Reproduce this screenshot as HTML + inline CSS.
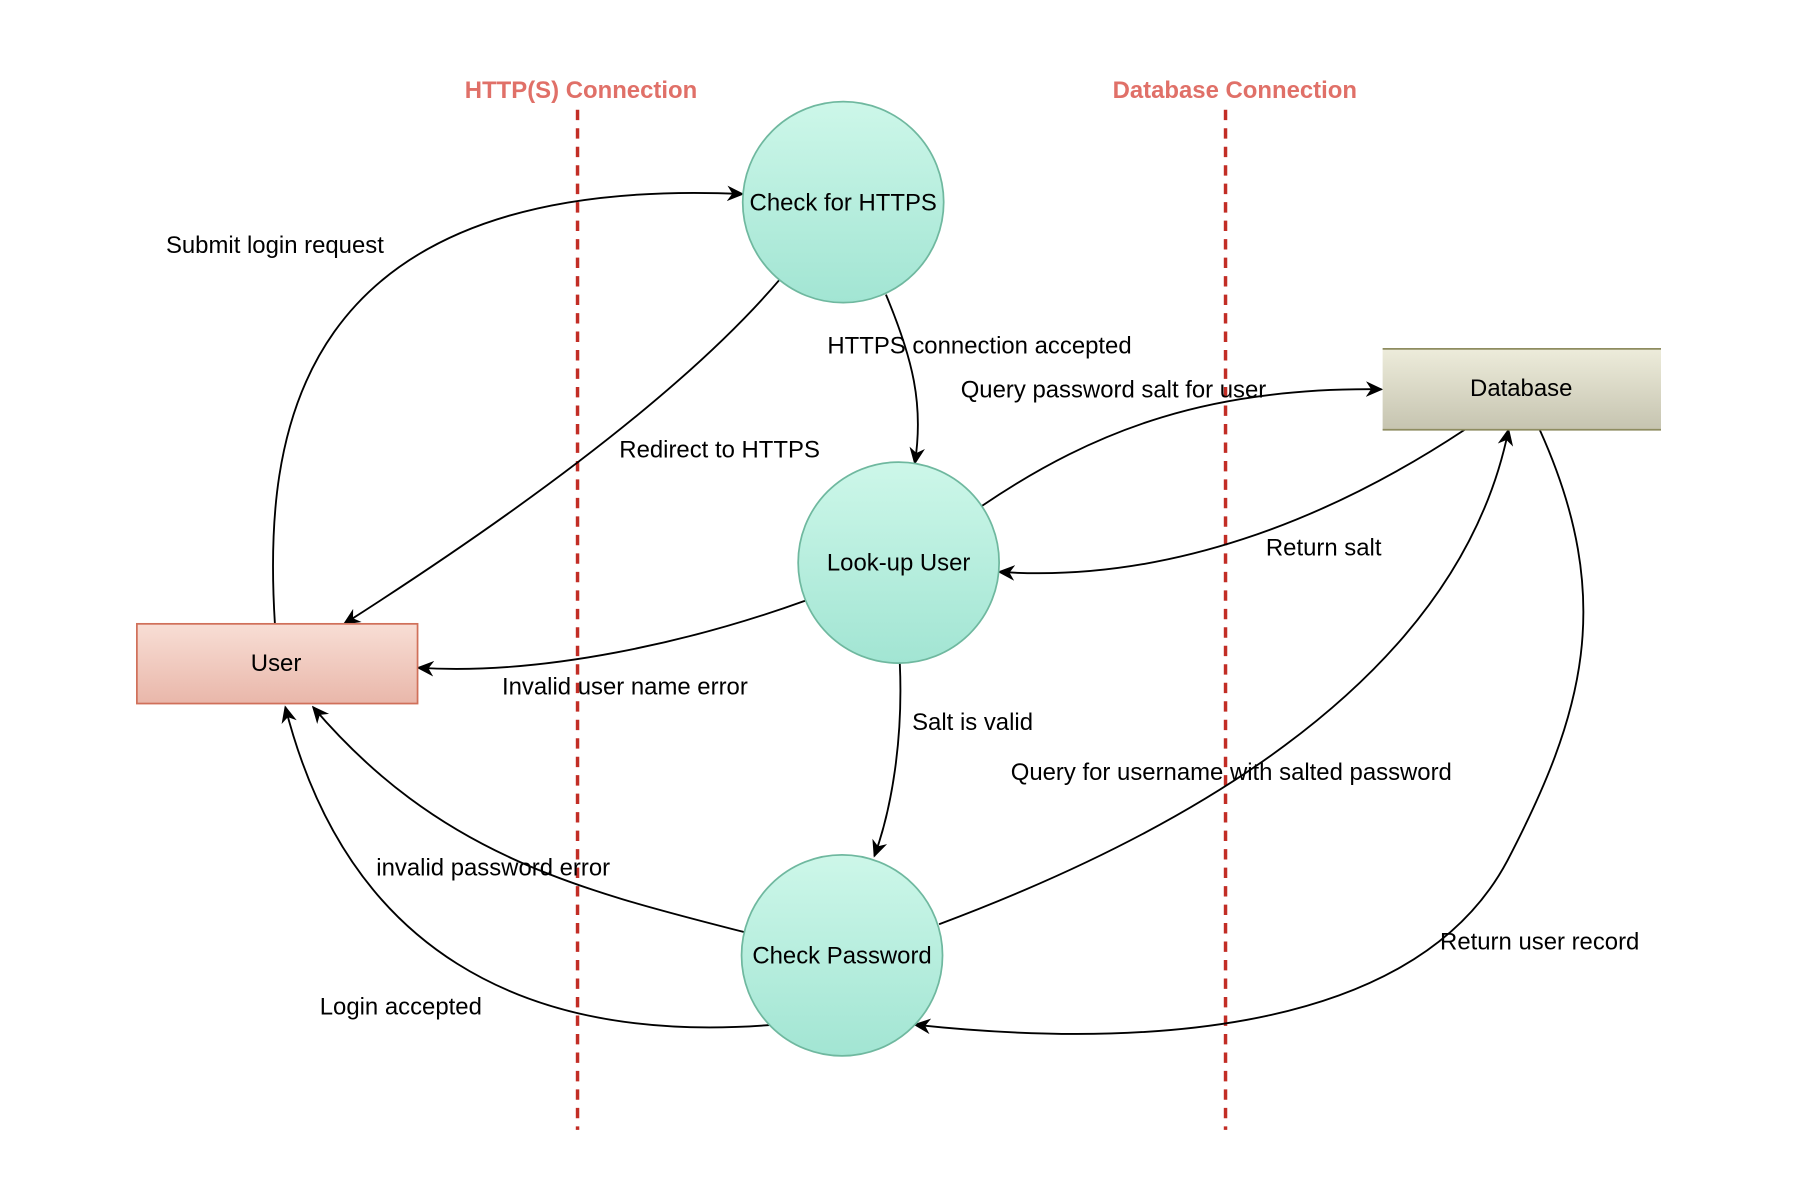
<!DOCTYPE html>
<html><head><meta charset="utf-8">
<style>
html,body{margin:0;padding:0;background:#fff;}
svg{display:block;}
text{font-family:"Liberation Sans",Arial,sans-serif;}
</style></head>
<body>
<svg width="1810" height="1198" viewBox="0 0 1567 1037" preserveAspectRatio="none" xmlns="http://www.w3.org/2000/svg">
<defs>
<linearGradient id="g" x1="0" y1="0" x2="0" y2="1"><stop offset="0" stop-color="#cdf7e9"/><stop offset="1" stop-color="#a2e5d3"/></linearGradient>
<linearGradient id="u" x1="0" y1="0" x2="0" y2="1"><stop offset="0" stop-color="#f8ded5"/><stop offset="1" stop-color="#e9b7aa"/></linearGradient>
<linearGradient id="d" x1="0" y1="0" x2="0" y2="1"><stop offset="0" stop-color="#edecdb"/><stop offset="1" stop-color="#c6c4b0"/></linearGradient>
<marker id="a" viewBox="0 0 10 10" refX="9" refY="5" markerWidth="15" markerHeight="15" orient="auto" markerUnits="userSpaceOnUse"><path d="M0,0.5 L10,5 L0,9.5 L3,5 z" fill="#000"/></marker>
</defs>
<rect width="1567" height="1037" fill="#fff"/>
<g stroke="#c22d25" stroke-width="3" stroke-dasharray="9,7">
<line x1="500" y1="95" x2="500" y2="978"/>
<line x1="1061" y1="95" x2="1061" y2="978"/>
</g>
<g font-weight="bold" font-size="20.7" fill="#e07068" text-anchor="middle">
<text x="503" y="85">HTTP(S) Connection</text>
<text x="1069" y="85">Database Connection</text>
</g>
<g fill="none" stroke="#000" stroke-width="1.6" marker-end="url(#a)">
<path d="M238,540 C228,380 250,150 643,168"/>
<path d="M675,242 C600,330 470,430 298,540"/>
<path d="M767,255 C790,310 800,350 792,401"/>
<path d="M850,438 C950,370 1050,335 1196,337"/>
<path d="M1268,372 C1150,450 1010,505 865,495"/>
<path d="M697,520 C600,555 470,585 362,578"/>
<path d="M779,574 C782,640 772,700 757,741"/>
<path d="M813,800 C1000,730 1260,600 1306,372"/>
<path d="M1333,372 C1400,520 1370,620 1305,745 C1220,905 960,905 792,887"/>
<path d="M645,807 C500,770 380,740 271,612"/>
<path d="M670,887 C450,905 300,820 247,612"/>
</g>
<g stroke="#6fb89f" stroke-width="1.5" fill="url(#g)">
<circle cx="730" cy="175" r="87"/>
<circle cx="778" cy="487" r="87"/>
<circle cx="729" cy="827" r="87"/>
</g>
<rect x="118.5" y="540" width="243" height="69" fill="url(#u)" stroke="#d0705a" stroke-width="1.5"/>
<rect x="1197" y="302" width="241" height="70" fill="url(#d)"/>
<line x1="1197" y1="302" x2="1438" y2="302" stroke="#8e8c60" stroke-width="1.5"/>
<line x1="1197" y1="372" x2="1438" y2="372" stroke="#8e8c60" stroke-width="1.5"/>
<g font-size="20.7" fill="#000" text-anchor="middle">
<text x="730" y="182">Check for HTTPS</text>
<text x="778" y="494">Look-up User</text>
<text x="729" y="834">Check Password</text>
<text x="239" y="581">User</text>
<text x="1317" y="343">Database</text>
<text x="238" y="219">Submit login request</text>
<text x="623" y="396">Redirect to HTTPS</text>
<text x="848" y="306">HTTPS connection accepted</text>
<text x="964" y="344">Query password salt for user</text>
<text x="1146" y="481">Return salt</text>
<text x="541" y="601">Invalid user name error</text>
<text x="842" y="632">Salt is valid</text>
<text x="1066" y="675">Query for username with salted password</text>
<text x="1333" y="822">Return user record</text>
<text x="427" y="758">invalid password error</text>
<text x="347" y="878">Login accepted</text>
</g>
</svg>
</body></html>
